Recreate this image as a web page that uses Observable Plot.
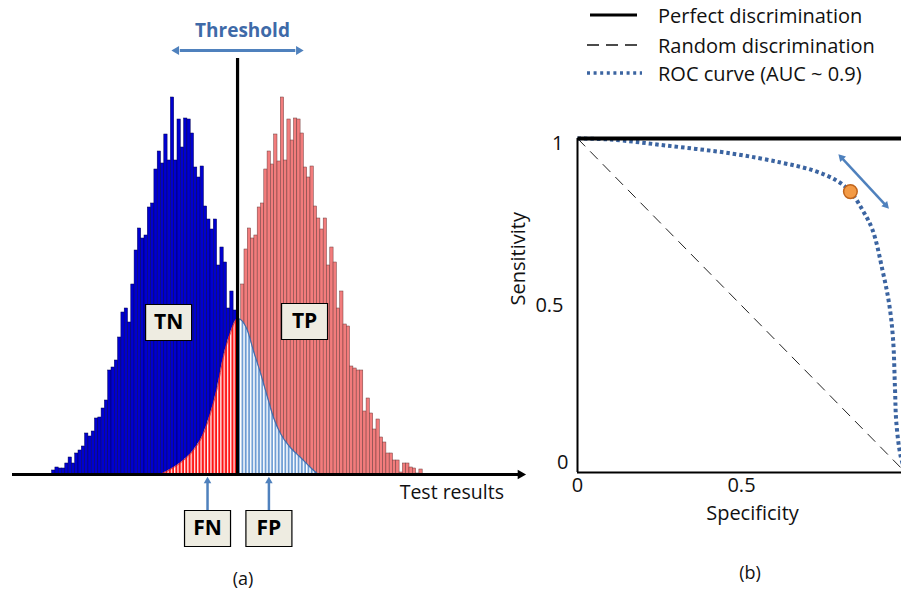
<!DOCTYPE html>
<html><head><meta charset="utf-8">
<script src="https://cdn.jsdelivr.net/npm/d3@7"></script>
<script src="https://cdn.jsdelivr.net/npm/@observablehq/plot@0.6"></script>
<style>
body{margin:0;background:#fff;}
#fig{position:relative;width:901px;height:592px;overflow:hidden;font-family:"Open Sans",sans-serif;color:#111;background:#fff;}
.abs{position:absolute;}
.abs svg{max-width:none !important;}
.cap{position:absolute;transform:translate(-50%,-50%);font-size:18px;white-space:nowrap;}
.lrow{position:absolute;left:585px;height:26px;display:flex;align-items:center;font-size:20px;white-space:nowrap;transform:translateY(-50%);}
.lrow svg{margin-right:11px;}
</style></head><body>
<div id="fig">
<svg width="0" height="0" style="position:absolute">
<defs>
<pattern id="fnHatch" patternUnits="userSpaceOnUse" width="3.3" height="10"><rect width="3.3" height="10" fill="#fff"/><rect x="0.4" width="2.1" height="10" fill="#ff1414"/></pattern>
<pattern id="fpHatch" patternUnits="userSpaceOnUse" width="3.3" height="10"><rect width="3.3" height="10" fill="#fff"/><rect x="0.6" width="1.8" height="10" fill="#6a9ad3"/></pattern>
</defs></svg>
<div id="panelA" class="abs" style="left:0;top:0;width:530px;height:592px"></div>
<div id="panelB" class="abs" style="left:500px;top:0;width:420px;height:592px"></div>
<div id="legend"></div>
<div class="cap" style="left:243px;top:578px">(a)</div>
<div class="cap" style="left:750px;top:572px">(b)</div>
</div>
<script>
// ---------- Panel (a) data: histogram counts per bin ----------
const blueCounts = [4,7,6,6,11,17,11,21,24,28,41,38,43,56,57,66,74,104,107,114,137,162,166,152,190,224,246,236,239,267,271,305,323,311,340,314,377,314,355,327,356,355,341,307,297,308,268,255,245,255,209,227,212,166,183,164];
const redCounts = [190,225,246,236,239,267,271,305,323,310,340,313,377,314,355,334,356,355,341,307,297,308,268,256,245,256,209,227,212,166,183,150,148,108,106,104,104,63,76,61,45,55,37,32,21,21,14,14,2,11,11,7,6,1,5];
const blueStart = 0;
const redStart = 57.3;
const threshold = 56.2;
// smooth tails of the two distributions in the overlap
const fnX = [32.8,36.8,39.8,42.8,45.9,48,50.1,51.9,54.1,55.6,56.2];
const fnY = [0,7,14,24,41,61,87,117,142,154,156];
const fpX = [56.2,57.1,59.2,61,63.2,65.3,67.1,69.2,72.2,75.3,78.3,80.6];
const fpY = [156,155,144,124,101,77,57,41,27,17,7,0];
// region labels
const boxText = ["TN","TP","FN","FP"];
const boxX = [35.3,76.5,47.1,65.7];
const boxY = [152,153,-54,-54];

// ---------- Panel (b) data ----------
const rocSpec = [0,0.1,0.27,0.47,0.62,0.72,0.79,0.832,0.87,0.90,0.93,0.95,0.962,0.968,0.972,0.985,1];
const rocSens = [1,0.997,0.979,0.955,0.928,0.904,0.874,0.841,0.784,0.725,0.605,0.506,0.40,0.25,0.15,0.05,0];
const perfectSpec = [0,1,1], perfectSens = [1,1,0];
const randomSpec = [0,1], randomSens = [1,0];
const opSpec = [0.832], opSens = [0.841];
const arrowSpec = [0.805,0.94], arrowSens = [0.943,0.80];
const axisTicks = [0,0.5,1];
const legendLabels = ["Perfect discrimination","Random discrimination","ROC curve (AUC ~ 0.9)"];

const BLUE_ARROW = "#4f81bd";
const font = {fontFamily:"Open Sans, sans-serif", fontSize:"17px", background:"transparent", overflow:"visible", maxWidth:"none"};

// tables
const blueBins = blueCounts.map((c,i)=>({x1:blueStart+i, x2:blueStart+i+1, h:c}));
const redBins = redCounts.map((c,i)=>({x1:redStart+i, x2:redStart+i+1, h:c}));
const fn = fnX.map((x,i)=>({x, y:fnY[i]}));
const fp = fpX.map((x,i)=>({x, y:fpY[i]}));
const boxes = boxText.map((t,i)=>({t, x:boxX[i], y:boxY[i]}));
const rectSymbol = {draw(ctx){ ctx.rect(-23,-18,46,36); }};

const xMin = -12, xMax = 141.94;
const arrowsFN = boxes.filter(b=>b.y<0);

const A = Plot.plot({
  width:530, height:592,
  marginLeft:12, marginRight:10, marginTop:58, marginBottom:118,
  x:{domain:[xMin,xMax], axis:null},
  y:{domain:[0,416], axis:null},
  style:font,
  marks:[
    Plot.rect(blueBins.filter(d=>d.x2<=threshold+0.01), {x1:"x1", x2:"x2", y1:0, y2:"h", fill:"#0000d0", stroke:"#000050", strokeWidth:0.5}),
    Plot.rect(redBins, {x1:"x1", x2:"x2", y1:0, y2:"h", fill:"#f27c7c", stroke:"#6e3c3c", strokeWidth:0.5}),
    Plot.areaY(fn, {x:"x", y:"y", fill:"url(#fnHatch)", curve:"monotone-x"}),
    Plot.line(fn, {x:"x", y:"y", stroke:"#b0203a", strokeWidth:0.8, curve:"monotone-x"}),
    Plot.areaY(fp, {x:"x", y:"y", fill:"url(#fpHatch)", curve:"monotone-x"}),
    Plot.line(fp, {x:"x", y:"y", stroke:"#3d6fb0", strokeWidth:1.2, curve:"monotone-x"}),
    Plot.ruleX([threshold], {stroke:"#000", strokeWidth:3.2}),
    Plot.ruleY([0], {stroke:"#000", strokeWidth:3}),
    Plot.dot([xMax], {x:d=>d, y:0, symbol:"triangle2", rotate:90, r:4.6, fill:"#000", stroke:"none"}),
    Plot.text(["Test results"], {x:xMax-5, y:-18, text:d=>d, textAnchor:"end", fontSize:19.5, fill:"#111"}),
    // threshold annotation
    Plot.link([threshold], {x1:d=>d-17.5, x2:d=>d+17.5, y1:424, y2:424, stroke:BLUE_ARROW, strokeWidth:3}),
    Plot.dot([threshold-18.5, threshold+18.5], {x:d=>d, y:424, symbol:"triangle2", rotate:(d,i)=>i?90:-90, r:4.2, fill:BLUE_ARROW, stroke:"none"}),
    Plot.text(["Threshold"], {x:threshold+1.5, y:444, text:d=>d, fontSize:19, fontWeight:"bold", fill:"#3e6aa8"}),
    // FN / FP arrows
    Plot.link(arrowsFN, {x1:"x", x2:"x", y1:-36, y2:-8, stroke:BLUE_ARROW, strokeWidth:2.5}),
    Plot.dot(arrowsFN, {x:"x", y:-6.5, symbol:"triangle2", r:3.6, fill:BLUE_ARROW, stroke:"none"}),
    // label boxes
    Plot.dot(boxes, {x:"x", y:"y", symbol:rectSymbol, r:1, fill:"#eeece1", stroke:"#000", strokeWidth:1.2}),
    Plot.text(boxes, {x:"x", y:"y", text:"t", fontSize:21, fontWeight:"bold", fill:"#000"})
  ]
});
document.getElementById("panelA").appendChild(A);

const roc = rocSpec.map((x,i)=>({x, y:rocSens[i]}));
const perfect = perfectSpec.map((x,i)=>({x, y:perfectSens[i]}));
const random = randomSpec.map((x,i)=>({x, y:randomSens[i]}));
const op = opSpec.map((x,i)=>({x, y:opSens[i]}));
const arr = arrowSpec.map((x,i)=>({x, y:arrowSens[i], rot: i ? 137 : -43}));
const tick = d => String(d);

const B = Plot.plot({
  width:420, height:592,
  marginLeft:77, marginRight:15, marginTop:138, marginBottom:120,
  x:{domain:[0,1], axis:null},
  y:{domain:[0,1], axis:null},
  style:font,
  marks:[
    Plot.line(random, {x:"x", y:"y", stroke:"#222", strokeWidth:1, strokeDasharray:"11,7", strokeLinecap:"butt"}),
    Plot.line(roc, {x:"x", y:"y", stroke:"#3b64a1", strokeWidth:4, strokeDasharray:"3.5,3", strokeLinecap:"butt", curve:"catmull-rom"}),
    Plot.ruleX([0], {stroke:"#000", strokeWidth:2}),
    Plot.ruleY([0], {stroke:"#000", strokeWidth:2}),
    Plot.line(perfect, {x:"x", y:"y", stroke:"#000", strokeWidth:4, strokeLinecap:"butt"}),
    Plot.link([arr], {x1:d=>d[0].x, y1:d=>d[0].y, x2:d=>d[1].x, y2:d=>d[1].y, stroke:BLUE_ARROW, strokeWidth:2.5}),
    Plot.dot(arr, {x:"x", y:"y", rotate:"rot", symbol:"triangle2", r:3.8, fill:BLUE_ARROW, stroke:"none"}),
    Plot.dot(op, {x:"x", y:"y", r:6.8, fill:"#f39a45", stroke:"#c0641c", strokeWidth:1.5}),
    Plot.axisX(axisTicks, {tickSize:0, tickPadding:5, fontSize:20, tickFormat:tick, label:null}),
    Plot.axisY([1], {tickSize:0, tickPadding:14, fontSize:20, tickFormat:tick, label:null, dy:5}),
    Plot.axisY([0.5], {tickSize:0, tickPadding:14, fontSize:20, tickFormat:tick, label:null}),
    Plot.axisY([0], {tickSize:0, tickPadding:9, fontSize:20, tickFormat:tick, label:null, dy:-10}),
    Plot.text(["Specificity"], {frameAnchor:"bottom", dy:47, dx:11, text:d=>d, fontSize:20, fill:"#111"}),
    Plot.text(["Sensitivity"], {frameAnchor:"left", dx:-59, rotate:-90, text:d=>d, fontSize:20, fill:"#111"})
  ]
});
document.getElementById("panelB").appendChild(B);

// legend
const legendStyles = [
  '<line x1="5" x2="52" y1="5" y2="5" stroke="#000" stroke-width="3"/>',
  '<line x1="2" x2="58" y1="5" y2="5" stroke="#111" stroke-width="1.5" stroke-dasharray="12,7"/>',
  '<line x1="2" x2="57" y1="5" y2="5" stroke="#3b64a1" stroke-width="3.5" stroke-dasharray="3,3.6"/>'
];
const legendTops = [15,45,73];
const lg = document.getElementById("legend");
legendLabels.forEach((t,i)=>{
  const row = document.createElement("div");
  row.className = "lrow";
  row.style.top = legendTops[i] + "px";
  row.innerHTML = `<svg width="62" height="10">${legendStyles[i]}</svg><span>${t}</span>`;
  lg.appendChild(row);
});
</script>
</body></html>
